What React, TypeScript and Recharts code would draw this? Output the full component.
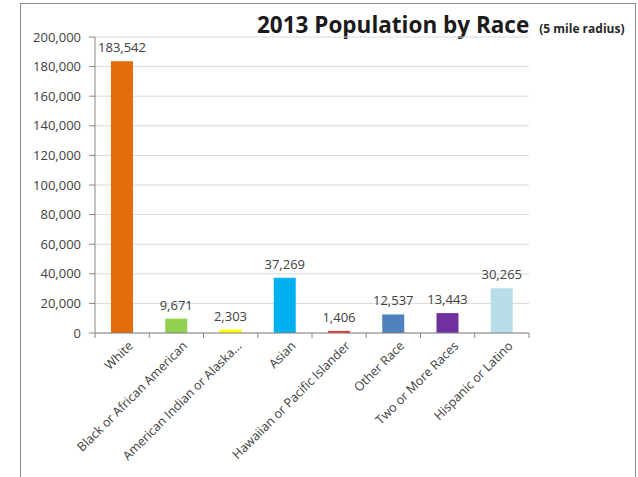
import { Bar, BarChart, CartesianGrid, Cell, LabelList, XAxis, YAxis } from "recharts";

const races = [
  "White",
  "Black or African American",
  "American Indian or Alaska...",
  "Asian",
  "Hawaiian or Pacific Islander",
  "Other Race",
  "Two or More Races",
  "Hispanic or Latino"
];
const population = [183542, 9671, 2303, 37269, 1406, 12537, 13443, 30265];
const barColors = ["#E36C0A", "#92D050", "#FFFF00", "#00B0F0", "#E8322E", "#4F81BD", "#7030A0", "#B7DEE8"];
const yTicks = [0, 20000, 40000, 60000, 80000, 100000, 120000, 140000, 160000, 180000, 200000];

const data = races.map((name, i) => ({ name, value: population[i] }));

const font = "'Open Sans', 'Noto Sans', sans-serif";
const textColor = "#404040";
const axisColor = "#868686";
const fmt = (v: number) => v.toLocaleString("en-US");

// tick label + the small marks Excel draws between categories
function RaceTick(props: any) {
  const { x, y, payload, index, visibleTicksCount } = props;
  const half = payload.offset ?? 0;
  const axisY = y - 8;
  return (
    <g>
      <line x1={x - half} x2={x - half} y1={axisY} y2={axisY + 5} stroke={axisColor} />
      {index === visibleTicksCount - 1 && (
        <line x1={x + half} x2={x + half} y1={axisY} y2={axisY + 5} stroke={axisColor} />
      )}
      <g transform={`translate(${x + 6},${y})`}>
        <text
          transform="rotate(-45)"
          textAnchor="end"
          dy={8}
          fontSize={12.5}
          fontFamily={font}
          fill={textColor}
        >
          {payload.value}
        </text>
      </g>
    </g>
  );
}

export default function App() {
  return (
    <div style={{ position: "absolute", left: 0, top: 0, width: 638, height: 477, background: "#fff", overflow: "hidden" }}>
      <div
        style={{
          position: "absolute",
          left: 20,
          top: 3,
          width: 616,
          height: 490,
          border: "1px solid #8c8c8c",
          boxSizing: "border-box"
        }}
      />
      <div
        style={{
          position: "absolute",
          left: 257,
          top: 9,
          fontFamily: font,
          fontWeight: 700,
          color: "#1a1a1a",
          whiteSpace: "nowrap"
        }}
      >
        <span style={{ fontSize: 22.5 }}>2013 Population by Race</span>
        <span style={{ fontSize: 12, marginLeft: 10, color: "#262626" }}>(5 mile radius)</span>
      </div>
      <BarChart
        width={638}
        height={477}
        data={data}
        margin={{ top: 37, right: 109, bottom: 0, left: 0 }}
        barSize={22}
        style={{ position: "absolute", left: 0, top: 0 }}
      >
        <CartesianGrid vertical={false} stroke="#d9d9d9" strokeWidth={1} />
        <XAxis
          dataKey="name"
          interval={0}
          tick={<RaceTick />}
          axisLine={{ stroke: axisColor }}
          tickLine={false}
          tickSize={6}
          tickMargin={2}
          height={144}
        />
        <YAxis
          width={95}
          domain={[0, 200000]}
          ticks={yTicks}
          interval={0}
          tickFormatter={fmt}
          tick={{ fontSize: 13, fontFamily: font, fill: textColor }}
          axisLine={{ stroke: axisColor }}
          tickLine={{ stroke: axisColor }}
          tickSize={6}
          tickMargin={8}
        />
        <Bar dataKey="value" isAnimationActive={false}>
          {data.map((d, i) => (
            <Cell key={d.name} fill={barColors[i]} />
          ))}
          <LabelList
            dataKey="value"
            position="top"
            offset={9}
            formatter={(v: any) => fmt(Number(v))}
            style={{ fontSize: 13, fontFamily: font, fill: textColor }}
          />
        </Bar>
      </BarChart>
    </div>
  );
}
